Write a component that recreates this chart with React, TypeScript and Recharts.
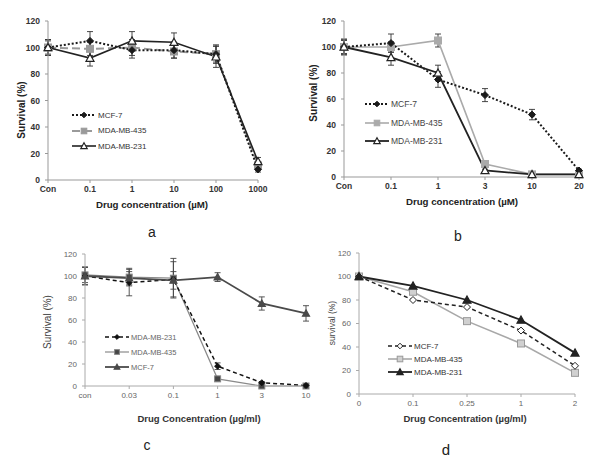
import React from 'react'
import { LineChart, Line, XAxis, YAxis, ErrorBar } from 'recharts'

// panel a
const catsA = ['Con', '0.1', '1', '10', '100', '1000']
const mcf7A = [100, 105, 98, 98, 95, 8]
const mcf7ErrA = [6, 7, 6, 6, 7, 2]
const mb435A = [100, 99, 100, 97, 95, 11]
const mb435ErrA = [5, 5, 6, 5, 6, 2]
const mb231A = [100, 92, 105, 104, 93, 14]
const mb231ErrA = [6, 6, 7, 7, 8, 3]

// panel b
const catsB = ['Con', '0.1', '1', '3', '10', '20']
const mcf7B = [100, 103, 75, 63, 48, 5]
const mcf7ErrB = [6, 7, 6, 5, 4, 1]
const mb435B = [100, 100, 105, 10, 2, 2]
const mb435ErrB = [5, 4, 5, 2, 1, 1]
const mb231B = [100, 92, 80, 5, 2, 2]
const mb231ErrB = [6, 6, 6, 1, 1, 1]

// panel c
const catsC = ['con', '0.03', '0.1', '1', '3', '10']
const mb231C = [100, 94, 97, 18, 3, 0.5]
const mb231ErrC = [8, 12, 16, 3, 1, 0]
const mb435C = [101, 99, 98, 6.5, 0, 0]
const mb435ErrC = [7, 8, 18, 1, 0, 0]
const mcf7C = [100, 98, 96, 99, 75, 66]
const mcf7ErrC = [8, 6, 8, 4, 6, 7]

// panel d
const catsD = ['0', '0.1', '0.25', '1', '2']
const mcf7D = [100, 80, 74, 54, 24]
const mb435D = [100, 87, 62, 43, 18]
const mb231D = [100, 92, 80, 63, 35]

const yTicks = [0, 20, 40, 60, 80, 100, 120]
const FONT = '"Liberation Sans", Arial, sans-serif'

type MarkerKind = 'diamond' | 'square' | 'triangle' | 'dot'

interface SeriesDef {
  name: string
  values: number[]
  errors?: number[]
  color: string
  width: number
  dash?: string
  marker: MarkerKind
  mFill: string
  mStroke: string
  mSize: number
}

function drawMarker(kind: MarkerKind, cx: number, cy: number, s: number, fill: string, stroke: string, key?: any) {
  if (cx == null || cy == null) return <g key={key} />
  if (kind === 'diamond')
    return <polygon key={key} points={`${cx},${cy - s} ${cx + s},${cy} ${cx},${cy + s} ${cx - s},${cy}`} fill={fill} stroke={stroke} strokeWidth={1} />
  if (kind === 'square')
    return <rect key={key} x={cx - s} y={cy - s} width={2 * s} height={2 * s} fill={fill} stroke={stroke} strokeWidth={1} />
  if (kind === 'triangle')
    return <polygon key={key} points={`${cx},${cy - s} ${cx + s},${cy + s * 0.8} ${cx - s},${cy + s * 0.8}`} fill={fill} stroke={stroke} strokeWidth={1.2} />
  return <circle key={key} cx={cx} cy={cy} r={s} fill={fill} stroke={stroke} strokeWidth={1} />
}

interface PanelProps {
  box: { x: number; y: number; w: number; h: number }
  plot: { l: number; t: number; r: number; b: number }
  cats: string[]
  series: SeriesDef[]
  tick: any
  axisColor: string
  errColor: string
}

function Panel({ box, plot, cats, series, tick, axisColor, errColor }: PanelProps) {
  const rows = cats.map((c, i) => {
    const r: any = { cat: c }
    series.forEach((s, j) => {
      r['v' + j] = s.values[i]
      if (s.errors) r['e' + j] = s.errors[i]
    })
    return r
  })
  const yW = 40
  const xH = 30
  const margin = {
    left: plot.l - box.x - yW,
    top: plot.t - box.y,
    right: box.x + box.w - plot.r,
    bottom: box.y + box.h - plot.b - xH,
  }
  return (
    <div style={{ position: 'absolute', left: box.x, top: box.y }}>
      <LineChart width={box.w} height={box.h} data={rows} margin={margin}>
        <XAxis dataKey="cat" height={xH} interval={0} tick={tick} tickSize={3} tickMargin={3} stroke={axisColor} />
        <YAxis width={yW} type="number" domain={[0, 120]} ticks={yTicks} tick={tick} tickSize={3} tickMargin={5} stroke={axisColor} />
        {series.map((s, j) => (
          <Line
            key={s.name}
            dataKey={'v' + j}
            stroke={s.color}
            strokeWidth={s.width}
            strokeDasharray={s.dash}
            isAnimationActive={false}
            activeDot={false}
            dot={(p: any) => drawMarker(s.marker, p.cx, p.cy, s.mSize, s.mFill, s.mStroke, p.index)}
          >
            {s.errors && <ErrorBar dataKey={'e' + j} width={3} stroke={errColor} strokeWidth={0.9} direction="y" />}
          </Line>
        ))}
      </LineChart>
    </div>
  )
}

function LegendBox({ x, y, gap, series, textStyle }: { x: number; y: number; gap: number; series: SeriesDef[]; textStyle: any }) {
  return (
    <div style={{ position: 'absolute', left: x, top: y }}>
      {series.map((s, i) => (
        <div key={s.name} style={{ position: 'absolute', left: 0, top: i * gap - 6, height: 12, display: 'flex', alignItems: 'center', whiteSpace: 'nowrap' }}>
          <svg width={25} height={12}>
            <line x1={0} x2={24} y1={6} y2={6} stroke={s.color} strokeWidth={s.width} strokeDasharray={s.dash} />
            {drawMarker(s.marker, 12, 6, s.mSize * 0.8, s.mFill, s.mStroke)}
          </svg>
          <span style={{ marginLeft: 1, fontFamily: FONT, ...textStyle }}>{s.name}</span>
        </div>
      ))}
    </div>
  )
}

function Title({ x, y, text, size, weight, color, rotate }: { x: number; y: number; text: string; size: number; weight?: any; color?: string; rotate?: boolean }) {
  return (
    <div
      style={{
        position: 'absolute',
        left: x,
        top: y,
        transform: `translate(-50%, -50%)${rotate ? ' rotate(-90deg)' : ''}`,
        whiteSpace: 'nowrap',
        fontFamily: FONT,
        fontSize: size,
        fontWeight: weight || 'normal',
        color: color || '#222',
        lineHeight: 1,
      }}
    >
      {text}
    </div>
  )
}

const seriesA: SeriesDef[] = [
  { name: 'MCF-7', values: mcf7A, errors: mcf7ErrA, color: '#1a1a1a', width: 2, dash: '2 2', marker: 'diamond', mFill: '#1a1a1a', mStroke: '#1a1a1a', mSize: 3.5 },
  { name: 'MDA-MB-435', values: mb435A, errors: mb435ErrA, color: '#9a9a9a', width: 2, dash: '8 4', marker: 'square', mFill: '#9a9a9a', mStroke: '#9a9a9a', mSize: 3.5 },
  { name: 'MDA-MB-231', values: mb231A, errors: mb231ErrA, color: '#222', width: 1.6, marker: 'triangle', mFill: '#fff', mStroke: '#222', mSize: 4 },
]

const seriesB: SeriesDef[] = [
  { name: 'MCF-7', values: mcf7B, errors: mcf7ErrB, color: '#1a1a1a', width: 2, dash: '2 2', marker: 'diamond', mFill: '#1a1a1a', mStroke: '#1a1a1a', mSize: 3.5 },
  { name: 'MDA-MB-435', values: mb435B, errors: mb435ErrB, color: '#aaaaaa', width: 1.6, marker: 'square', mFill: '#aaaaaa', mStroke: '#aaaaaa', mSize: 3.5 },
  { name: 'MDA-MB-231', values: mb231B, errors: mb231ErrB, color: '#222', width: 1.8, marker: 'triangle', mFill: '#fff', mStroke: '#222', mSize: 4 },
]

const seriesC: SeriesDef[] = [
  { name: 'MCF-7', values: mcf7C, errors: mcf7ErrC, color: '#4a4a4a', width: 1.8, marker: 'triangle', mFill: '#4a4a4a', mStroke: '#4a4a4a', mSize: 3.5 },
  { name: 'MDA-MB-435', values: mb435C, errors: mb435ErrC, color: '#8a8a8a', width: 1.2, marker: 'square', mFill: '#444', mStroke: '#888', mSize: 3 },
  { name: 'MDA-MB-231', values: mb231C, errors: mb231ErrC, color: '#111', width: 1.5, dash: '4 3', marker: 'diamond', mFill: '#111', mStroke: '#111', mSize: 3 },
]
const legendC = [seriesC[2], seriesC[1], seriesC[0]]

const seriesD: SeriesDef[] = [
  { name: 'MCF-7', values: mcf7D, color: '#222', width: 1.5, dash: '4 3', marker: 'diamond', mFill: '#fff', mStroke: '#222', mSize: 3.5 },
  { name: 'MDA-MB-435', values: mb435D, color: '#a8a8a8', width: 1.6, marker: 'square', mFill: '#d0d0d0', mStroke: '#999', mSize: 3.5 },
  { name: 'MDA-MB-231', values: mb231D, color: '#222', width: 1.8, marker: 'triangle', mFill: '#222', mStroke: '#222', mSize: 4 },
]

const boldTick = { fill: '#333', fontSize: 8.5, fontWeight: 'bold', fontFamily: FONT }
const lightTick = { fill: '#666', fontSize: 8, fontFamily: FONT }

export default function App() {
  return (
    <div style={{ position: 'absolute', left: 0, top: 0, width: 600, height: 467, background: '#fff', overflow: 'hidden' }}>
      <Panel box={{ x: 0, y: 0, w: 300, h: 230 }} plot={{ l: 48, t: 21, r: 258, b: 180 }} cats={catsA} series={[seriesA[1], seriesA[0], seriesA[2]]} tick={boldTick} axisColor="#999" errColor="#333" />
      <Panel box={{ x: 300, y: 0, w: 300, h: 230 }} plot={{ l: 344, t: 21, r: 579, b: 177 }} cats={catsB} series={[seriesB[1], seriesB[0], seriesB[2]]} tick={boldTick} axisColor="#999" errColor="#333" />
      <Panel box={{ x: 0, y: 230, w: 320, h: 237 }} plot={{ l: 85, t: 254, r: 306, b: 386 }} cats={catsC} series={[seriesC[1], seriesC[2], seriesC[0]]} tick={lightTick} axisColor="#aaa" errColor="#444" />
      <Panel box={{ x: 300, y: 230, w: 300, h: 237 }} plot={{ l: 359, t: 253, r: 575, b: 394 }} cats={catsD} series={[seriesD[1], seriesD[0], seriesD[2]]} tick={lightTick} axisColor="#aaa" errColor="#444" />

      <LegendBox x={72} y={115} gap={15.5} series={seriesA} textStyle={{ fontSize: 8, color: '#333' }} />
      <LegendBox x={365} y={104} gap={18.5} series={seriesB} textStyle={{ fontSize: 8.5, color: '#444' }} />
      <LegendBox x={105} y={337} gap={15} series={legendC} textStyle={{ fontSize: 7.5, color: '#666' }} />
      <LegendBox x={388} y={346} gap={13} series={seriesD} textStyle={{ fontSize: 8, color: '#333' }} />

      <Title x={22} y={110} text="Survival (%)" size={10} weight="bold" rotate />
      <Title x={152} y={205} text="Drug concentration (µM)" size={9.7} weight="bold" />
      <Title x={152} y={232} text="a" size={14} />

      <Title x={314} y={93} text="Survival (%)" size={10} weight="bold" rotate />
      <Title x={462} y={202} text="Drug concentration (µM)" size={9.7} weight="bold" />
      <Title x={458} y={236} text="b" size={14} />

      <Title x={48} y={322} text="Survival (%)" size={10} color="#444" rotate />
      <Title x={199} y={419} text="Drug Concentration (µg/ml)" size={9.5} weight="bold" color="#333" />
      <Title x={147} y={445} text="c" size={14} />

      <Title x={332} y={323} text="survival (%)" size={8.5} color="#444" rotate />
      <Title x={465} y={419} text="Drug Concentration (µg/ml)" size={9.5} weight="bold" color="#333" />
      <Title x={446} y={449} text="d" size={15} />
    </div>
  )
}
